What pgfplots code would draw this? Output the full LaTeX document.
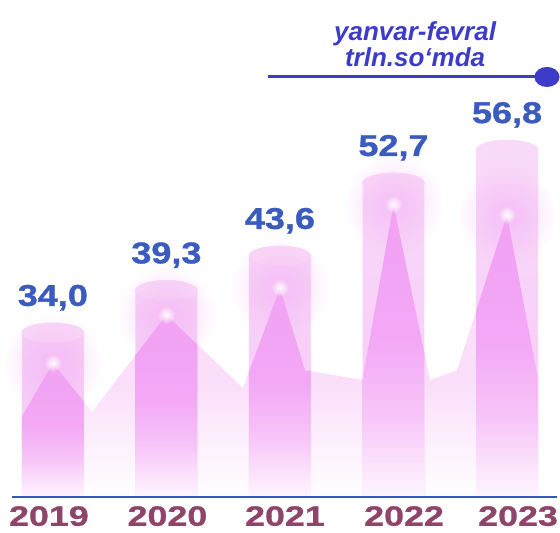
\documentclass[border=0pt]{standalone}
\usepackage{pgfplots}
\pgfplotsset{compat=1.18}
\usepackage{fontspec}
\setmainfont{Liberation Sans}
\newfontfamily\valfont{Liberation Sans}[FakeStretch=1.2, FakeBold=1.2]
\newfontfamily\yearfont{Liberation Sans}[FakeStretch=1.28, FakeBold=1]
\usetikzlibrary{fadings}

\definecolor{valblue}{HTML}{3B5BBE}
\definecolor{ttlblue}{HTML}{3C3CC8}
\definecolor{yearred}{HTML}{8E4569}
\definecolor{axblue}{HTML}{3558C0}
\definecolor{areapink}{HTML}{FADEFA}
\definecolor{bartop}{HTML}{F9DAF9}
\definecolor{barlow}{HTML}{F6C8F7}
\definecolor{cappink}{HTML}{F9D9F8}
\definecolor{glowpink}{HTML}{F3A8F3}
\definecolor{tri1}{HTML}{F2A0F4}
\definecolor{tri2}{HTML}{F3A8F6}
\definecolor{tri3}{HTML}{F7C5F8}
\definecolor{tri4}{HTML}{FCE8FC}
\definecolor{tri5}{HTML}{FEF6FE}

% path box maps to 25bp..75bp
\pgfdeclareverticalshading{trishade}{100bp}{color(0bp)=(tri5); color(25bp)=(tri5);
  color(29bp)=(tri4); color(39bp)=(tri3); color(52bp)=(tri2); color(75bp)=(tri1); color(100bp)=(tri1)}
\pgfdeclareverticalshading{areashade}{100bp}{color(0bp)=(white); color(25bp)=(white);
  color(45bp)=(areapink); color(100bp)=(areapink)}
\tikzfading[name=glowfade, inner color=transparent!0, outer color=transparent!100]

\begin{document}
\begin{tikzpicture}
\begin{axis}[
    width=545pt, height=497pt, scale only axis,
    xmin=-0.36, xmax=4.44, ymin=13.5, ymax=75.5,
    axis on top,
    axis y line=none, axis x line*=bottom,
    x axis line style={axblue, line width=2.5pt},
    xtick={-0.035,1.009,2.044,3.093,4.097},
    xticklabels={2019,2020,2021,2022,2023},
    major tick length=0pt,
    xticklabel style={font=\yearfont\bfseries\fontsize{28}{28}\selectfont,
        text=yearred, inner sep=0pt, yshift=-9pt},
    tri/.style={draw=none, shade, shading=trishade},
    ]
    % faint pink ridge behind the bars
    \addplot[draw=none, shade, shading=areashade] coordinates {
        (-0.273,13.5) (-0.273,23.5) (0,30.2) (0.344,24.1) (1,36.2)
        (1.674,27.1) (2,39.6) (2.22,29.3) (2.731,28.1) (3,50.0)
        (3.322,28.1) (3.559,29.3) (4,48.7) (4.273,28.1) (4.273,13.5)
    };
    % bars
    \addplot[ybar, bar width=0.546, draw=none, top color=bartop, bottom color=barlow,
        nodes near coords,
        /pgf/number format/.cd, use comma, fixed, fixed zerofill, precision=1,
        assume math mode=true, /pgfplots/.cd,
        every node near coord/.append style={font=\valfont\bfseries\fontsize{30}{30}\selectfont,
            text=valblue, inner sep=0pt, yshift=22pt},
        ] coordinates {
        (0,34.0) (1,39.3) (2,43.6) (3,52.7) (4,56.8)
    };
    % the ridge as seen through each bar
    \addplot[tri] coordinates {(-0.273,13.5) (-0.273,23.5) (0,30.2) (0.273,25.4) (0.273,13.5)};
    \addplot[tri] coordinates {(0.727,13.5) (0.727,31.2) (1,36.2) (1.273,32.5) (1.273,13.5)};
    \addplot[tri] coordinates {(1.727,13.5) (1.727,29.1) (2,39.6) (2.22,29.3) (2.273,29.2) (2.273,13.5)};
    \addplot[tri] coordinates {(2.727,13.5) (2.727,28.1) (3,50.0) (3.273,31.4) (3.273,13.5)};
    \addplot[tri] coordinates {(3.727,13.5) (3.727,36.7) (4,48.7) (4.273,28.1) (4.273,13.5)};
    % cylinder caps
    \addplot[only marks, mark=*, mark size=31pt,
        mark options={draw=cappink, fill=cappink, yscale=0.32}] coordinates {
        (0,34.0) (1,39.3) (2,43.6) (3,52.7) (4,56.8)
    };
    % glows
    \addplot[only marks, mark=none, nodes near coords={}, nodes near coords align=center,
        every node near coord/.append style={circle, fill=glowpink, fill opacity=0.5,
            minimum size=100pt, inner sep=0pt, path fading=glowfade, anchor=center}]
        coordinates {(0,30.2) (1,36.2) (2,39.6) (3,50.0) (4,48.7)};
    \addplot[only marks, mark=none, nodes near coords={}, nodes near coords align=center,
        every node near coord/.append style={circle, fill=white,
            minimum size=18pt, inner sep=0pt, path fading=glowfade, anchor=center}]
        coordinates {(0,30.2) (1,36.2) (2,39.6) (3,50.0) (4,48.7)};
    % heading rule with dot
    \addplot[ttlblue, line width=3pt, mark=*, mark indices={2}, mark size=8.5pt,
        mark options={xscale=1.3, fill=ttlblue, draw=ttlblue}] coordinates {
        (1.894,65.9) (4.352,65.9)
    };
    \node[font=\bfseries\itshape\fontsize{26}{26}\selectfont, text=ttlblue, align=center]
        at (axis cs:3.19,70.0) {yanvar-fevral\\trln.so‘mda};
\end{axis}
\path[use as bounding box] (-12pt,-36pt) rectangle (548pt,497pt);
\end{tikzpicture}
\end{document}
